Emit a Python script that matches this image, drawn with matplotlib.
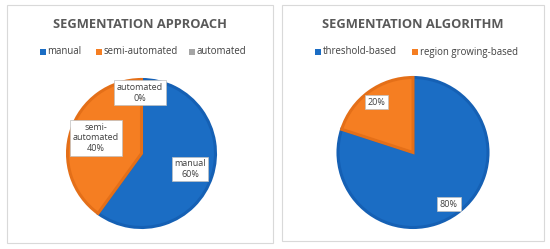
import matplotlib
matplotlib.use("Agg")
import matplotlib.pyplot as plt
from matplotlib.patches import Rectangle

plt.rcParams['font.family'] = ['Open Sans', 'DejaVu Sans']

# Data
approach_title = "SEGMENTATION APPROACH"
approach_labels = ["manual", "semi-automated", "automated"]
approach_values = [60, 40, 0]
approach_box_labels = ["manual\n60%", "semi-\nautomated\n40%", "automated\n0%"]

algo_title = "SEGMENTATION ALGORITHM"
algo_labels = ["threshold-based", "region growing-based"]
algo_values = [80, 20]
algo_box_labels = ["80%", "20%"]

W, H = 550, 249
fig = plt.figure(figsize=(W / 100, H / 100), dpi=100)
fig.patch.set_facecolor('white')

BLUE = '#1B6DC4'
BLUE_E = '#1560B4'
ORANGE = '#F57E22'
ORANGE_E = '#E46F18'
GRAY = '#A5A5A5'
TXT = '#404040'

def px_rect(x0, y0, x1, y1):
    return [x0 / W, 1 - y1 / H, (x1 - x0) / W, (y1 - y0) / H]

# panel borders
for (x0, y0, x1, y1) in [(7, 5, 273, 243), (282, 5, 544, 241)]:
    fig.patches.append(Rectangle((x0 / W, 1 - y1 / H), (x1 - x0) / W, (y1 - y0) / H,
                                 transform=fig.transFigure, fill=False,
                                 edgecolor='#D9D9D9', linewidth=0.8))

def draw_pie(cx, cy, r, values, colors, edges, box_labels, label_offsets):
    ax = fig.add_axes(px_rect(cx - r, cy - r, cx + r, cy + r))
    wedges, _ = ax.pie(values, colors=colors, startangle=90, counterclock=False,
                       radius=1.0, wedgeprops=dict(linewidth=2.2))
    for w, e, v in zip(wedges, edges, values):
        w.set_edgecolor(e)
        if v == 0:
            w.set_linewidth(0)
            w.set_visible(False)
    ax.set_xlim(-1, 1)
    ax.set_ylim(-1, 1)
    ax.set_aspect('equal')
    ax.axis('off')
    for lbl, (dx, dy) in zip(box_labels, label_offsets):
        ax.text(dx, dy, lbl, ha='center', va='center', fontsize=6.5, color=TXT,
                linespacing=1.2, zorder=5,
                bbox=dict(boxstyle='square,pad=0.3', facecolor='white',
                          edgecolor='#BFBFBF', linewidth=0.5))
    return ax

# left pie
draw_pie(141.5, 153.5, 74, approach_values, [BLUE, ORANGE, GRAY],
         [BLUE_E, ORANGE_E, GRAY], approach_box_labels,
         [(0.655, -0.21), (-0.615, 0.21), (-0.02, 0.82)])
# right pie
draw_pie(413, 152.5, 75, algo_values, [BLUE, ORANGE], [BLUE_E, ORANGE_E],
         algo_box_labels, [(0.48, -0.69), (-0.49, 0.67)])

# titles
fig.text(140 / W, 1 - 24 / H, approach_title, ha='center', va='center',
         fontsize=9.3, fontweight='bold', color='#595959')
fig.text(413 / W, 1 - 24 / H, algo_title, ha='center', va='center',
         fontsize=9.3, fontweight='bold', color='#595959')

# legends
def legend_items(items, y):
    for (sx, label, color) in items:
        fig.patches.append(Rectangle(((sx) / W, 1 - (y + 3) / H), 6 / W, 6 / H,
                                     transform=fig.transFigure, facecolor=color,
                                     edgecolor='none'))
        fig.text((sx + 7.5) / W, 1 - y / H, label, ha='left', va='center',
                 fontsize=6.9, color=TXT)

leg_colors_left = [BLUE, ORANGE, GRAY]
legend_items([(40, approach_labels[0], leg_colors_left[0]),
              (96, approach_labels[1], leg_colors_left[1]),
              (189, approach_labels[2], leg_colors_left[2])], 52)
legend_items([(315, algo_labels[0], BLUE),
              (412, algo_labels[1], ORANGE)], 52)

fig.savefig('out.png', dpi=100, facecolor='white')
